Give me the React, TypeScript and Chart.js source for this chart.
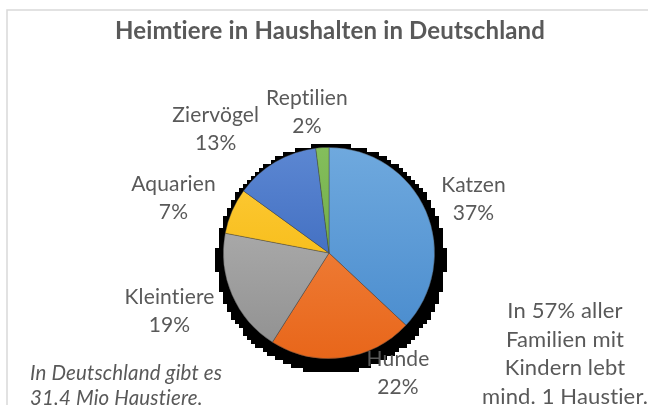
import React, { useEffect, useRef } from "react";
import { Chart, registerables } from "chart.js";

Chart.register(...registerables);

// ---- data ----
const categories = ["Katzen", "Hunde", "Kleintiere", "Aquarien", "Ziervögel", "Reptilien"];
const shares = [37, 22, 19, 7, 13, 2];
const chartTitle = "Heimtiere in Haushalten in Deutschland";
const noteRight = ["In 57% aller", "Familien mit", "Kindern lebt", "mind. 1 Haustier."];
const noteLeft = ["In Deutschland gibt es", "31.4 Mio Haustiere."];

// ---- styles / layout ----
const topColors = ["#6FA9DE", "#F38D4C", "#B9B9B9", "#FFCC3C", "#5C87D2", "#84BE5C"];
const bottomColors = ["#4689CC", "#E8661A", "#8F8F8F", "#F0B200", "#2C5BB4", "#5F9E37"];
const labelNudges: [number, number][] = [
  [-2, 10],
  [49, -38],
  [-13, -5],
  [-9, 9],
  [-32, 14],
  [-12, 19],
];
const TEXT = "#595959";
const FONT = "Lato, 'Open Sans', sans-serif";

function noLig(ctx: any) {
  try {
    ctx.textRendering = "optimizeSpeed";
    ctx.letterSpacing = "0.15px";
  } catch (e) {}
}

function gradientColor(ctx: any, i: number) {
  const chart = ctx.chart;
  const area = chart.chartArea;
  if (!area) return bottomColors[i];
  const g = chart.ctx.createLinearGradient(0, area.top, 0, area.bottom);
  g.addColorStop(0, topColors[i]);
  g.addColorStop(1, bottomColors[i]);
  return g;
}

const decorPlugin = {
  id: "decor",
  beforeDraw(chart: any) {
    const ctx = chart.ctx;
    ctx.save();
    noLig(ctx);
    ctx.fillStyle = "#fff";
    ctx.fillRect(0, 0, chart.width, chart.height);
    ctx.strokeStyle = "#D9D9D9";
    ctx.lineWidth = 1.5;
    ctx.strokeRect(7, 10, chart.width + 20, chart.height + 20);
    // title
    ctx.fillStyle = TEXT;
    ctx.font = `bold 24px ${FONT}`;
    ctx.textAlign = "center";
    ctx.textBaseline = "middle";
    ctx.fillText(chartTitle, 330, 31);
    // notes
    ctx.font = `22px ${FONT}`;
    noteRight.forEach((t, k) => ctx.fillText(t, 565, 311 + k * 28.5));
    ctx.font = `italic 20.5px ${FONT}`;
    ctx.textAlign = "left";
    noteLeft.forEach((t, k) => ctx.fillText(t, 30, 373 + k * 25));
    ctx.restore();
  },
  beforeDatasetsDraw(chart: any) {
    const meta = chart.getDatasetMeta(0);
    const a = meta.data[0];
    if (!a) return;
    const ctx = chart.ctx;
    const scx = a.x + 2;
    const scy = a.y + 6;
    const sr = a.outerRadius + 9;
    ctx.save();
    ctx.fillStyle = "#000";
    const step = 4;
    for (let y = scy - sr; y < scy + sr; y += step) {
      const dy = y + step / 2 - scy;
      const hw = Math.sqrt(Math.max(0, sr * sr - dy * dy));
      const hwq = Math.round(hw / step) * step;
      ctx.fillRect(Math.round(scx - hwq), Math.round(y), 2 * hwq, step);
    }
    ctx.restore();
  },
  afterDatasetsDraw(chart: any) {
    const meta = chart.getDatasetMeta(0);
    const ctx = chart.ctx;
    const total = shares.reduce((s, v) => s + v, 0);
    ctx.save();
    noLig(ctx);
    ctx.fillStyle = TEXT;
    ctx.font = `21px ${FONT}`;
    ctx.textAlign = "center";
    ctx.textBaseline = "middle";
    meta.data.forEach((arc: any, i: number) => {
      const mid = (arc.startAngle + arc.endAngle) / 2;
      const d = arc.outerRadius + 54;
      const x = arc.x + Math.cos(mid) * d + labelNudges[i][0];
      const y = arc.y + Math.sin(mid) * d + labelNudges[i][1];
      ctx.fillText(categories[i], x, y - 14);
      ctx.fillText(`${Math.round((shares[i] / total) * 100)}%`, x, y + 14);
    });
    ctx.restore();
  },
};

export default function App() {
  const ref = useRef<HTMLCanvasElement | null>(null);
  useEffect(() => {
    if (!ref.current) return;
    const chart = new Chart(ref.current, {
      type: "pie",
      data: {
        labels: categories,
        datasets: [
          {
            data: shares,
            backgroundColor: (ctx: any) => gradientColor(ctx, ctx.dataIndex),
            borderColor: "rgba(70,70,70,0.55)",
            borderWidth: 0.75,
          },
        ],
      },
      options: {
        responsive: false,
        animation: false,
        devicePixelRatio: 1,
        layout: { padding: { left: 223, right: 213, top: 147, bottom: 46 } },
        plugins: {
          legend: { display: false },
          title: { display: false },
          tooltip: { enabled: false },
        },
      },
      plugins: [decorPlugin],
    });
    return () => chart.destroy();
  }, []);
  return (
    <div style={{ position: "absolute", left: 0, top: 0, width: 648, height: 405 }}>
      <canvas ref={ref} width={648} height={405} />
    </div>
  );
}
